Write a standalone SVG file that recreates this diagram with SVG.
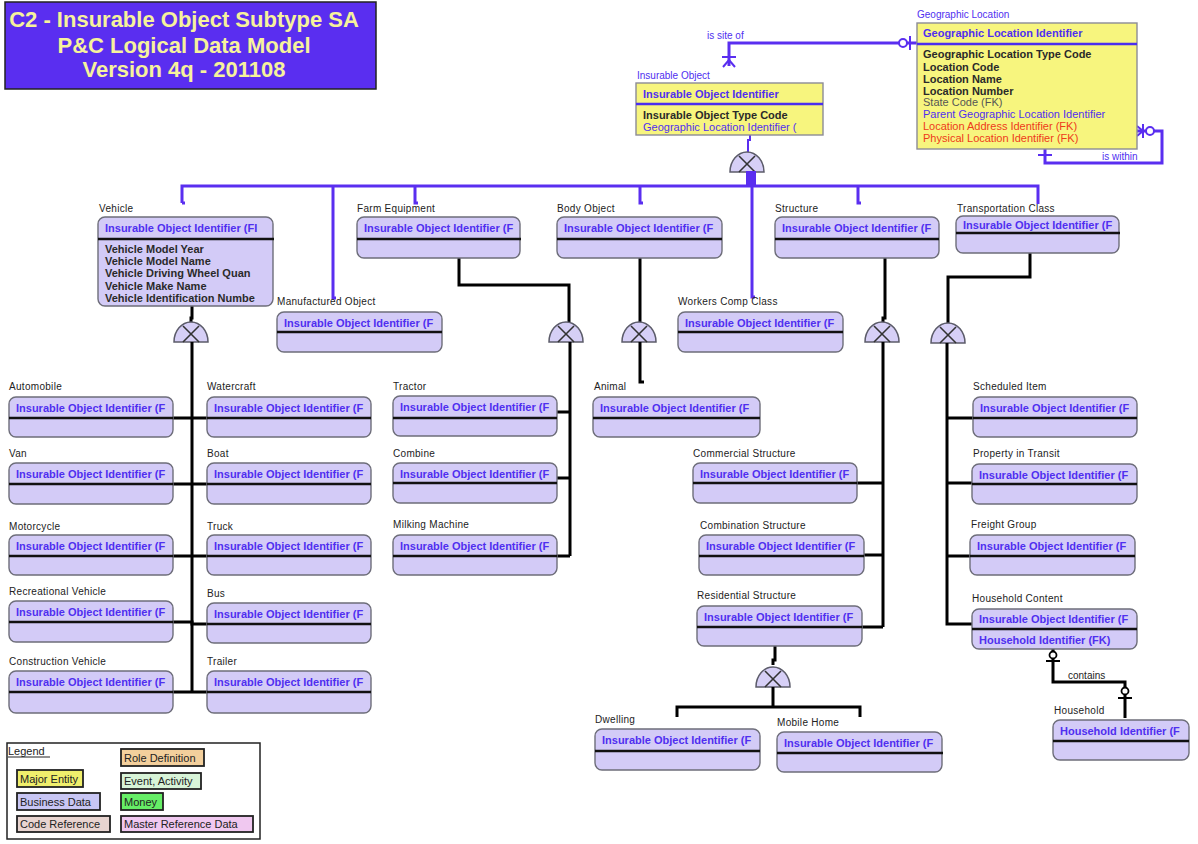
<svg xmlns="http://www.w3.org/2000/svg" width="1198" height="844" viewBox="0 0 1198 844">
<style>
text{font-family:"Liberation Sans",Arial,sans-serif}
.ttl{font-size:22px;font-weight:bold;fill:#f6f29c}
.lbl{font-size:10px;fill:#222;letter-spacing:0.3px}
.blbl{font-size:10px;fill:#4f2ff0}
.box{fill:#d3cbf7;stroke:#6e6e7a;stroke-width:1.4}
.ybox{fill:#f7f57e;stroke:#8c8c96;stroke-width:1.4}
.pk{font-size:11px;font-weight:bold;fill:#4f2ff0}
.at{font-size:11px;font-weight:bold;fill:#2a2a2a}
.gr{font-size:11px;fill:#555}
.rd{font-size:11px;fill:#ee3a1a}
.dv{stroke:#111;stroke-width:2.6}
.bdv{stroke:#4a2ef0;stroke-width:2.6}
.k{stroke:#000;stroke-width:3;fill:none}
.kt{stroke:#000;stroke-width:2;fill:none}
.b{stroke:#5a2ef0;stroke-width:3;fill:none}
.bt{stroke:#5a2ef0;stroke-width:2;fill:none}
.cat{fill:#d6cff6;stroke:#5c5c6a;stroke-width:1.5}
.catx{stroke:#333;stroke-width:1.6}
.rel{font-size:10px;fill:#4f2ff0}
.relk{font-size:10px;fill:#222}
.lg{font-size:11px;fill:#222}
.lgb{stroke:#222;stroke-width:1.8}
</style>
<defs>
<!-- subtype category symbol: half dome with a cross, anchored at bottom centre -->
<g id="cat">
<path class="cat" d="M-17 0 A17 20 0 0 1 17 0 Z"/>
<line class="catx" x1="-8" y1="-16" x2="8" y2="0"/>
<line class="catx" x1="8" y1="-16" x2="-8" y2="0"/>
</g>
</defs>
<rect width="1198" height="844" fill="#fff"/>

<g id="title">
<rect x="5" y="2" width="371" height="87" fill="#5a2ef0" stroke="#222" stroke-width="1.5"/>
<text class="ttl" x="184" y="27" text-anchor="middle">C2 - Insurable Object Subtype SA</text>
<text class="ttl" x="184" y="53" text-anchor="middle">P&amp;C Logical Data Model</text>
<text class="ttl" x="184" y="77" text-anchor="middle">Version 4q - 201108</text>
</g>

<g id="connectors">
<!-- is site of -->
<path class="b" d="M917 43 H729 V66"/>
<circle cx="903" cy="43" r="4" fill="#fff" stroke="#5a2ef0" stroke-width="2"/>
<line class="bt" x1="910" y1="36" x2="910" y2="50"/>
<line class="bt" x1="722" y1="57" x2="736" y2="57"/>
<path class="bt" d="M729 60 L723 67 M729 60 L735 67"/>
<text class="rel" x="707" y="39">is site of</text>
<!-- is within -->
<path class="b" d="M1137 131 H1162 V163 H1045 V149"/>
<line class="bt" x1="1143" y1="124" x2="1143" y2="138"/>
<circle cx="1150" cy="131" r="4" fill="#fff" stroke="#5a2ef0" stroke-width="2"/>
<path class="bt" d="M1137 126 L1143 131 L1137 136"/>
<line class="bt" x1="1038" y1="155" x2="1052" y2="155"/>
<text class="rel" x="1102" y="160">is within</text>
<!-- Insurable Object subtypes -->
<path class="bt" d="M750 135 V140 H748 V152"/>
<use href="#cat" x="747" y="172"/>
<rect x="746" y="171" width="10" height="15" fill="#5a2ef0"/>
<path class="b" d="M182 203 V186 H1038 V204"/>
<path class="b" d="M182 203 h3 M333 186 V298 h3 M415 186 V203 h3 M640 186 V203 h3 M752 186 V297 h3 M858 186 V203 h3"/>
<!-- Vehicle subtypes -->
<path class="k" d="M192 306 V318 H191 V322"/>
<use href="#cat" x="191" y="342"/>
<path class="k" d="M192 342 V692"/>
<path class="k" d="M173 418 H207 M173 484 H207 M173 556 H207 M173 622 H192 V624 H207 M173 692 H207"/>
<!-- Farm Equipment subtypes -->
<path class="k" d="M459 258 V285 H569 V322"/>
<use href="#cat" x="566" y="342"/>
<path class="k" d="M570 342 V556 M557 412 H570 M557 478 H570 M557 556 H570"/>
<!-- Body Object subtypes -->
<path class="k" d="M640 258 V322"/>
<use href="#cat" x="639" y="342"/>
<path class="k" d="M640 342 V382 h4"/>
<!-- Structure subtypes -->
<path class="k" d="M885 258 V318 H883 V322"/>
<use href="#cat" x="882" y="342"/>
<path class="k" d="M883 342 V627 M857 483 H883 M864 555 H883 M862 627 H883"/>
<!-- Residential Structure subtypes -->
<path class="k" d="M775 646 V660 H773 V665"/>
<use href="#cat" x="773" y="687"/>
<path class="k" d="M773 687 V707 M677 717 V707 H860 V717"/>
<!-- Transportation Class subtypes -->
<path class="k" d="M1030 253 V277 H948 V323"/>
<use href="#cat" x="948" y="343"/>
<path class="k" d="M947 343 V624 H972 M947 418 H973 M947 483 H972 M947 556 H970"/>
<!-- contains -->
<path class="k" d="M1053 649 V682 H1125 V718"/>
<circle cx="1053" cy="655" r="3.5" fill="#fff" stroke="#000" stroke-width="1.8"/>
<line class="kt" x1="1046" y1="661" x2="1060" y2="661"/>
<circle cx="1125" cy="691" r="3.5" fill="#fff" stroke="#000" stroke-width="1.8"/>
<line class="kt" x1="1118" y1="698" x2="1132" y2="698"/>
<text class="relk" x="1068" y="679">contains</text>
</g>

<g id="geographic-location">
<text class="blbl" x="917" y="18">Geographic Location</text>
<rect class="ybox" x="917" y="23" width="220" height="126"/>
<line class="bdv" x1="917" y1="44" x2="1137" y2="44"/>
<text class="pk" x="923" y="37">Geographic Location Identifier</text>
<text class="at" x="923" y="58">Geographic Location Type Code</text>
<text class="at" x="923" y="71">Location Code</text>
<text class="at" x="923" y="83">Location Name</text>
<text class="at" x="923" y="95">Location Number</text>
<text class="gr" x="923" y="106">State Code (FK)</text>
<text class="pk" x="923" y="118" style="font-weight:normal">Parent Geographic Location Identifier</text>
<text class="rd" x="923" y="130">Location Address Identifier (FK)</text>
<text class="rd" x="923" y="142">Physical Location Identifier (FK)</text>
</g>

<g id="insurable-object">
<text class="blbl" x="637" y="79">Insurable Object</text>
<rect class="ybox" x="636" y="83" width="187" height="52"/>
<line class="bdv" x1="636" y1="104" x2="823" y2="104"/>
<text class="pk" x="643" y="98">Insurable Object Identifier</text>
<text class="at" x="643" y="119">Insurable Object Type Code</text>
<text class="pk" x="643" y="131" style="font-weight:normal">Geographic Location Identifier (</text>
</g>

<g id="vehicle">
<text class="lbl" x="99" y="212">Vehicle</text>
<rect class="box" x="98" y="217" width="175" height="89" rx="7"/>
<line class="dv" x1="98" y1="239" x2="274" y2="239"/>
<text class="pk" x="105" y="232">Insurable Object Identifier (FI</text>
<text class="at" x="105" y="253">Vehicle Model Year</text>
<text class="at" x="105" y="265">Vehicle Model Name</text>
<text class="at" x="105" y="277">Vehicle Driving Wheel Quan</text>
<text class="at" x="105" y="290">Vehicle Make Name</text>
<text class="at" x="105" y="302">Vehicle Identification Numbe</text>
</g>

<g id="manufactured-object"><text class="lbl" x="277" y="305">Manufactured Object</text><rect class="box" x="277" y="312" width="165" height="40" rx="7"/><line class="dv" x1="277" y1="332" x2="442" y2="332"/><text class="pk" x="284" y="327">Insurable Object Identifier (F</text></g>
<g id="farm-equipment"><text class="lbl" x="357" y="212">Farm Equipment</text><rect class="box" x="357" y="217" width="163" height="41" rx="7"/><line class="dv" x1="357" y1="239" x2="521" y2="239"/><text class="pk" x="364" y="232">Insurable Object Identifier (F</text></g>
<g id="body-object"><text class="lbl" x="557" y="212">Body Object</text><rect class="box" x="557" y="217" width="165" height="41" rx="7"/><line class="dv" x1="557" y1="239" x2="722" y2="239"/><text class="pk" x="564" y="232">Insurable Object Identifier (F</text></g>
<g id="workers-comp-class"><text class="lbl" x="678" y="305">Workers Comp Class</text><rect class="box" x="678" y="312" width="165" height="40" rx="7"/><line class="dv" x1="678" y1="332" x2="843" y2="332"/><text class="pk" x="685" y="327">Insurable Object Identifier (F</text></g>
<g id="structure"><text class="lbl" x="775" y="212">Structure</text><rect class="box" x="775" y="217" width="164" height="41" rx="7"/><line class="dv" x1="775" y1="239" x2="939" y2="239"/><text class="pk" x="782" y="232">Insurable Object Identifier (F</text></g>
<g id="transportation-class"><text class="lbl" x="957" y="212">Transportation Class</text><rect class="box" x="956" y="216" width="163" height="37" rx="7"/><line class="dv" x1="956" y1="233" x2="1120" y2="233"/><text class="pk" x="963" y="229">Insurable Object Identifier (F</text></g>

<g id="automobile"><text class="lbl" x="9" y="390">Automobile</text><rect class="box" x="9" y="397" width="164" height="40" rx="7"/><line class="dv" x1="9" y1="418" x2="173" y2="418"/><text class="pk" x="16" y="412">Insurable Object Identifier (F</text></g>
<g id="watercraft"><text class="lbl" x="207" y="390">Watercraft</text><rect class="box" x="207" y="397" width="164" height="40" rx="7"/><line class="dv" x1="207" y1="418" x2="371" y2="418"/><text class="pk" x="214" y="412">Insurable Object Identifier (F</text></g>
<g id="van"><text class="lbl" x="9" y="457">Van</text><rect class="box" x="9" y="463" width="164" height="41" rx="7"/><line class="dv" x1="9" y1="484" x2="173" y2="484"/><text class="pk" x="16" y="478">Insurable Object Identifier (F</text></g>
<g id="boat"><text class="lbl" x="207" y="457">Boat</text><rect class="box" x="207" y="463" width="164" height="41" rx="7"/><line class="dv" x1="207" y1="484" x2="371" y2="484"/><text class="pk" x="214" y="478">Insurable Object Identifier (F</text></g>
<g id="motorcycle"><text class="lbl" x="9" y="530">Motorcycle</text><rect class="box" x="9" y="535" width="164" height="40" rx="7"/><line class="dv" x1="9" y1="556" x2="173" y2="556"/><text class="pk" x="16" y="550">Insurable Object Identifier (F</text></g>
<g id="truck"><text class="lbl" x="207" y="530">Truck</text><rect class="box" x="207" y="535" width="164" height="40" rx="7"/><line class="dv" x1="207" y1="556" x2="371" y2="556"/><text class="pk" x="214" y="550">Insurable Object Identifier (F</text></g>
<g id="recreational-vehicle"><text class="lbl" x="9" y="595">Recreational Vehicle</text><rect class="box" x="9" y="601" width="164" height="41" rx="7"/><line class="dv" x1="9" y1="622" x2="173" y2="622"/><text class="pk" x="16" y="616">Insurable Object Identifier (F</text></g>
<g id="bus"><text class="lbl" x="207" y="597">Bus</text><rect class="box" x="207" y="603" width="164" height="40" rx="7"/><line class="dv" x1="207" y1="624" x2="371" y2="624"/><text class="pk" x="214" y="618">Insurable Object Identifier (F</text></g>
<g id="construction-vehicle"><text class="lbl" x="9" y="665">Construction Vehicle</text><rect class="box" x="9" y="671" width="164" height="42" rx="7"/><line class="dv" x1="9" y1="692" x2="173" y2="692"/><text class="pk" x="16" y="686">Insurable Object Identifier (F</text></g>
<g id="trailer"><text class="lbl" x="207" y="665">Trailer</text><rect class="box" x="207" y="671" width="164" height="42" rx="7"/><line class="dv" x1="207" y1="692" x2="371" y2="692"/><text class="pk" x="214" y="686">Insurable Object Identifier (F</text></g>

<g id="tractor"><text class="lbl" x="393" y="390">Tractor</text><rect class="box" x="393" y="396" width="164" height="40" rx="7"/><line class="dv" x1="393" y1="418" x2="557" y2="418"/><text class="pk" x="400" y="411">Insurable Object Identifier (F</text></g>
<g id="combine"><text class="lbl" x="393" y="457">Combine</text><rect class="box" x="393" y="463" width="164" height="40" rx="7"/><line class="dv" x1="393" y1="483" x2="557" y2="483"/><text class="pk" x="400" y="478">Insurable Object Identifier (F</text></g>
<g id="milking-machine"><text class="lbl" x="393" y="528">Milking Machine</text><rect class="box" x="393" y="535" width="164" height="40" rx="7"/><line class="dv" x1="393" y1="556" x2="557" y2="556"/><text class="pk" x="400" y="550">Insurable Object Identifier (F</text></g>
<g id="animal"><text class="lbl" x="594" y="390">Animal</text><rect class="box" x="593" y="397" width="167" height="40" rx="7"/><line class="dv" x1="593" y1="418" x2="760" y2="418"/><text class="pk" x="600" y="412">Insurable Object Identifier (F</text></g>

<g id="commercial-structure"><text class="lbl" x="693" y="457">Commercial Structure</text><rect class="box" x="693" y="463" width="164" height="40" rx="7"/><line class="dv" x1="693" y1="483" x2="857" y2="483"/><text class="pk" x="700" y="478">Insurable Object Identifier (F</text></g>
<g id="combination-structure"><text class="lbl" x="700" y="529">Combination Structure</text><rect class="box" x="699" y="535" width="165" height="40" rx="7"/><line class="dv" x1="699" y1="556" x2="864" y2="556"/><text class="pk" x="706" y="550">Insurable Object Identifier (F</text></g>
<g id="residential-structure"><text class="lbl" x="697" y="599">Residential Structure</text><rect class="box" x="697" y="606" width="165" height="40" rx="7"/><line class="dv" x1="697" y1="627" x2="862" y2="627"/><text class="pk" x="704" y="621">Insurable Object Identifier (F</text></g>
<g id="dwelling"><text class="lbl" x="595" y="723">Dwelling</text><rect class="box" x="595" y="729" width="165" height="41" rx="7"/><line class="dv" x1="595" y1="751" x2="760" y2="751"/><text class="pk" x="602" y="744">Insurable Object Identifier (F</text></g>
<g id="mobile-home"><text class="lbl" x="777" y="726">Mobile Home</text><rect class="box" x="777" y="732" width="165" height="40" rx="7"/><line class="dv" x1="777" y1="753" x2="943" y2="753"/><text class="pk" x="784" y="747">Insurable Object Identifier (F</text></g>

<g id="scheduled-item"><text class="lbl" x="973" y="390">Scheduled Item</text><rect class="box" x="973" y="397" width="164" height="40" rx="7"/><line class="dv" x1="973" y1="418" x2="1137" y2="418"/><text class="pk" x="980" y="412">Insurable Object Identifier (F</text></g>
<g id="property-in-transit"><text class="lbl" x="973" y="457">Property in Transit</text><rect class="box" x="972" y="464" width="165" height="40" rx="7"/><line class="dv" x1="972" y1="484" x2="1137" y2="484"/><text class="pk" x="979" y="479">Insurable Object Identifier (F</text></g>
<g id="freight-group"><text class="lbl" x="971" y="528">Freight Group</text><rect class="box" x="970" y="535" width="165" height="40" rx="7"/><line class="dv" x1="970" y1="556" x2="1135" y2="556"/><text class="pk" x="977" y="550">Insurable Object Identifier (F</text></g>
<g id="household-content"><text class="lbl" x="972" y="602">Household Content</text><rect class="box" x="972" y="609" width="165" height="40" rx="7"/><line class="dv" x1="972" y1="629" x2="1137" y2="629"/><text class="pk" x="979" y="623">Insurable Object Identifier (F</text><text class="pk" x="979" y="644">Household Identifier (FK)</text></g>
<g id="household"><text class="lbl" x="1054" y="714">Household</text><rect class="box" x="1053" y="720" width="136" height="40" rx="7"/><line class="dv" x1="1053" y1="741" x2="1189" y2="741"/><text class="pk" x="1060" y="735">Household Identifier (F</text></g>

<g id="legend">
<rect x="7" y="743" width="253" height="96" fill="#fff" stroke="#222" stroke-width="1.5"/>
<text class="lg" x="8" y="755">Legend</text>
<line x1="8" y1="757" x2="50" y2="757" stroke="#222" stroke-width="1"/>
<rect class="lgb" x="121" y="749" width="83" height="17" fill="#f3cf9c"/>
<text class="lg" x="124" y="762">Role Definition</text>
<rect class="lgb" x="17" y="770" width="66" height="17" fill="#f0ef6c"/>
<text class="lg" x="20" y="783">Major Entity</text>
<rect class="lgb" x="121" y="773" width="80" height="16" fill="#d8f4d8"/>
<text class="lg" x="124" y="785">Event, Activity</text>
<rect class="lgb" x="17" y="793" width="83" height="17" fill="#c8c6f4"/>
<text class="lg" x="20" y="806">Business Data</text>
<rect class="lgb" x="121" y="793" width="42" height="17" fill="#66ee66"/>
<text class="lg" x="124" y="806">Money</text>
<rect class="lgb" x="17" y="816" width="93" height="16" fill="#e8d4d0"/>
<text class="lg" x="20" y="828">Code Reference</text>
<rect class="lgb" x="121" y="816" width="132" height="16" fill="#f0c8f0"/>
<text class="lg" x="124" y="828">Master Reference Data</text>
</g>
</svg>
